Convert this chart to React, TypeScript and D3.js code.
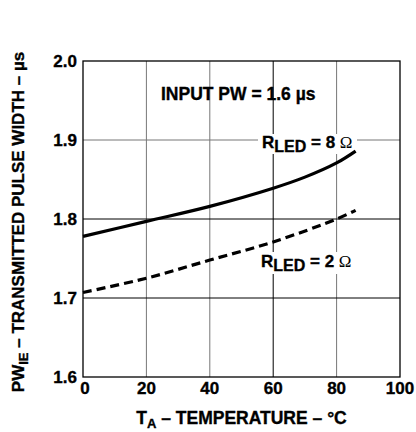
import React from "react";
import * as d3 from "d3";

const temps8 = [0, 20, 40, 60, 70, 80, 86];
const pw8 = [1.778, 1.797, 1.816, 1.839, 1.853, 1.871, 1.886];
const temps2 = [0, 20, 40, 60, 80, 86];
const pw2 = [1.707, 1.725, 1.748, 1.771, 1.8, 1.811];
const xTicks = [0, 20, 40, 60, 80, 100];
const yTicks = [1.6, 1.7, 1.8, 1.9, 2.0];
const yTickLabels = ["1.6", "1.7", "1.8", "1.9", "2.0"];
const darkX = [60];
const darkY = [1.8, 1.7];

const W = 416;
const H = 432;
const left = 83;
const right = 400;
const top = 61;
const bottom = 377;
const FONT = "'Liberation Sans', Arial, Helvetica, sans-serif";

export default function App() {
  const x = d3.scaleLinear().domain([0, 100]).range([left, right]);
  const y = d3.scaleLinear().domain([1.6, 2.0]).range([bottom, top]);
  const line = d3
    .line<[number, number]>()
    .x((d) => x(d[0]))
    .y((d) => y(d[1]))
    .curve(d3.curveCatmullRom.alpha(0.5));
  const d8 = line(temps8.map((t, i) => [t, pw8[i]] as [number, number])) || "";
  const d2 = line(temps2.map((t, i) => [t, pw2[i]] as [number, number])) || "";

  const textStroke = { stroke: "#000", strokeWidth: 0.35 };

  return (
    <svg
      width={W}
      height={H}
      style={{ position: "absolute", left: 0, top: 0, background: "#fff" }}
      fontFamily={FONT}
      fontWeight="bold"
    >
      <rect x={0} y={0} width={W} height={H} fill="#fff" />
      {xTicks.slice(1, -1).map((t) => (
        <line
          key={"gx" + t}
          x1={x(t)}
          x2={x(t)}
          y1={top}
          y2={bottom}
          stroke={darkX.includes(t) ? "#000" : "#777"}
          strokeWidth={1}
        />
      ))}
      {yTicks.slice(1, -1).map((t) => (
        <line
          key={"gy" + t}
          x1={left}
          x2={right}
          y1={y(t)}
          y2={y(t)}
          stroke={darkY.includes(t) ? "#000" : "#777"}
          strokeWidth={1}
        />
      ))}
      <rect x={left} y={top} width={right - left} height={bottom - top} fill="none" stroke="#000" strokeWidth={1.3} />
      {/* label backgrounds */}
      <rect x={258} y={134} width={99} height={20} fill="#fff" />
      <rect x={258} y={252} width={99} height={22} fill="#fff" />

      <path d={d8} fill="none" stroke="#000" strokeWidth={3.2} />
      <path d={d2} fill="none" stroke="#000" strokeWidth={3.2} strokeDasharray="9,5" />

      <g {...textStroke}>
        {yTicks.map((t, i) => (
          <text key={"yl" + t} x={77} y={y(t)} dy="0.35em" textAnchor="end" fontSize={17}>
            {yTickLabels[i]}
          </text>
        ))}
        {xTicks.map((t) => (
          <text key={"xl" + t} x={x(t) + (t === 0 ? 2 : 0)} y={394} textAnchor="middle" fontSize={17}>
            {t}
          </text>
        ))}

        <text x={(left + right) / 2} y={424} textAnchor="middle" fontSize={17.5}>
          T<tspan fontSize={13} dy={4}>A</tspan>
          <tspan dy={-4}> – TEMPERATURE – °C</tspan>
        </text>

        <text
          transform={`translate(24, ${(top + bottom) / 2 + 3}) rotate(-90)`}
          textAnchor="middle"
          fontSize={17}
        >
          PW<tspan fontSize={13} dy={4}>IE</tspan>
          <tspan dy={-4}> – TRANSMITTED PULSE WIDTH – µs</tspan>
        </text>

        <text x={161} y={100} fontSize={17.5}>INPUT PW = 1.6 µs</text>

        <text x={262} y={148} fontSize={17}>
          R<tspan fontSize={16} dy={4}>LED</tspan>
          <tspan dy={-4}> = 8 </tspan>
          <tspan fontWeight="normal" strokeWidth={0} fontFamily="'Liberation Serif', 'Times New Roman', serif">Ω</tspan>
        </text>
        <text x={261} y={267} fontSize={17}>
          R<tspan fontSize={16} dy={4}>LED</tspan>
          <tspan dy={-4}> = 2 </tspan>
          <tspan fontWeight="normal" strokeWidth={0} fontFamily="'Liberation Serif', 'Times New Roman', serif">Ω</tspan>
        </text>
      </g>
    </svg>
  );
}
